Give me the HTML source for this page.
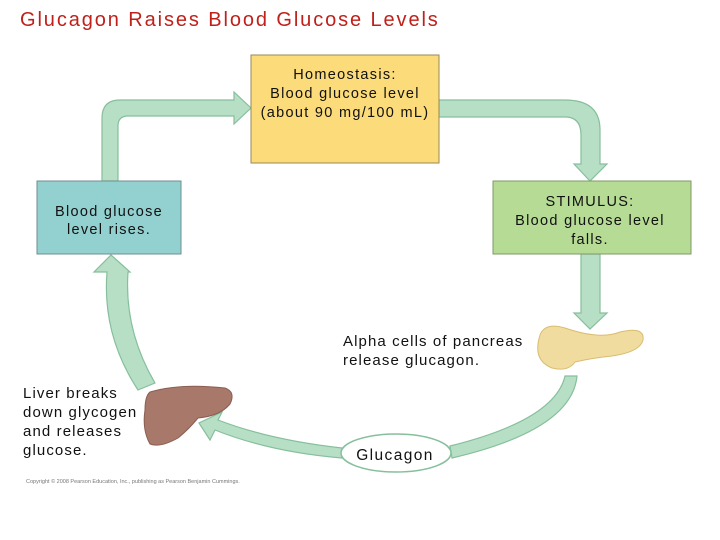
<!DOCTYPE html>
<html><head><meta charset="utf-8"><style>
body{margin:0;background:#fff;width:720px;height:540px;overflow:hidden}
svg{display:block}
text{font-family:"Liberation Sans",sans-serif;fill:#111}
</style></head><body>
<svg width="720" height="540" viewBox="0 0 720 540">
<text x="20" y="26" font-size="20" letter-spacing="1.9" style="fill:#c0201a">Glucagon Raises Blood Glucose Levels</text>
<g fill="#b7dfc6" stroke="#86bf9b" stroke-width="1.2">
<path d="M102 181 L102 118 Q102 100 120 100 L234 100 L234 92 L251 108 L234 124 L234 116 L128 116 Q118 116 118 126 L118 181 Z"/>
<path d="M439 100 L565 100 Q600 100 600 130 L600 164 L607 164 L590 181 L574 164 L581 164 L581 135 Q581 117 565 117 L439 117 Z"/>
<path d="M581 254 L600 254 L600 313 L607 313 L590 329 L574 313 L581 313 Z"/>
<path d="M565 376 L577 376 Q572 430 452 458 L450 446 Q555 420 565 376 Z"/>
<path d="M342 448 L342 458 Q270 452 215 430 L210 440 L199 423 L222 412 L218 420 Q270 440 342 448 Z"/>
<path d="M138 390 L155 383 Q124 330 128 272 L130 272 L111 255 L94 272 L107 272 Q102 335 138 390 Z"/>
</g>
<rect x="251" y="55" width="188" height="108" fill="#fbdb7a" stroke="#9a8a55" stroke-width="1"/>
<rect x="37" y="181" width="144" height="73" fill="#92d1cf" stroke="#6f8f8f" stroke-width="1"/>
<rect x="493" y="181" width="198" height="73" fill="#b6db95" stroke="#7f9a6a" stroke-width="1"/>
<g font-size="14.5" text-anchor="middle" letter-spacing="1.3">
<text x="345" y="79">Homeostasis:</text>
<text x="345" y="98">Blood glucose level</text>
<text x="345" y="117">(about 90 mg/100 mL)</text>
<text x="109" y="216">Blood glucose</text>
<text x="109" y="234">level rises.</text>
<text x="590" y="206">STIMULUS:</text>
<text x="590" y="225">Blood glucose level</text>
<text x="590" y="244">falls.</text>
</g>
<g font-size="15" letter-spacing="1.1">
<text x="343" y="346">Alpha cells of pancreas</text>
<text x="343" y="365">release glucagon.</text>
<text x="23" y="398">Liver breaks</text>
<text x="23" y="417">down glycogen</text>
<text x="23" y="436">and releases</text>
<text x="23" y="455">glucose.</text>
</g>
<ellipse cx="396" cy="453" rx="55" ry="19" fill="#fff" stroke="#86bf9b" stroke-width="1.5"/>
<text x="395" y="460" font-size="15.5" letter-spacing="1.4" text-anchor="middle">Glucagon</text>
<path d="M540 335 Q545 322 565 328 Q600 340 620 332 Q645 326 643 340 Q640 352 612 356 Q592 358 575 362 Q568 372 552 368 Q532 360 540 335 Z" fill="#f1dca0" stroke="#d8bd70" stroke-width="1"/>
<path d="M150 392 Q180 383 225 388 Q236 392 230 404 Q220 416 198 418 Q188 430 178 438 Q160 448 150 444 Q142 430 145 410 Q145 396 150 392 Z" fill="#a8786a" stroke="#8a5e52" stroke-width="1"/>
<text x="26" y="483" font-size="5.5" style="fill:#777">Copyright © 2008 Pearson Education, Inc., publishing as Pearson Benjamin Cummings.</text>
</svg>
</body></html>
